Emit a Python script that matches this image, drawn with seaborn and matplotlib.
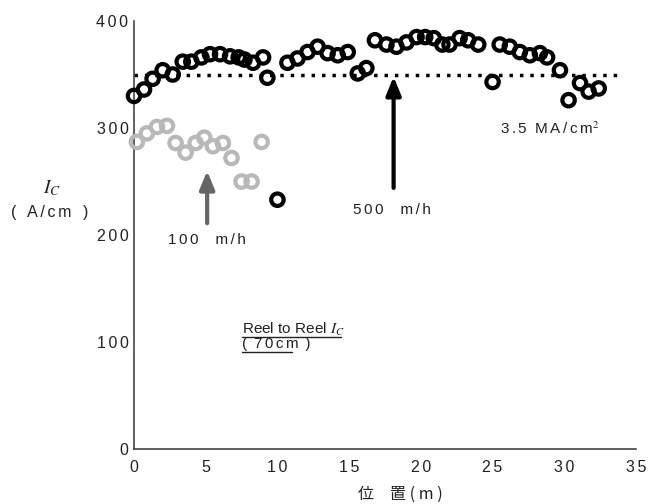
import matplotlib
matplotlib.use("Agg")
import matplotlib.pyplot as plt
import seaborn as sns
import pandas as pd

# ---- data ----
pos_500 = [0.0, 0.7, 1.3, 2.0, 2.7, 3.4, 4.0, 4.7, 5.3, 6.0, 6.7, 7.3, 7.7, 8.3,
           9.0, 9.3, 10.0, 10.7, 11.4, 12.1, 12.8, 13.5, 14.2, 14.9, 15.6, 16.2,
           16.8, 17.6, 18.3, 19.0, 19.7, 20.3, 20.9, 21.5, 22.0, 22.7, 23.3, 24.0,
           25.0, 25.5, 26.2, 26.9, 27.6, 28.3, 28.8, 29.7, 30.3, 31.1, 31.7, 32.4]
ic_500 = [330, 336, 346, 354, 350, 362, 362, 366, 369, 369, 367, 366, 364, 361,
          366, 347, 233, 361, 365, 371, 376, 370, 368, 371, 351, 356,
          382, 378, 376, 380, 385, 385, 384, 378, 378, 384, 382, 378,
          343, 378, 376, 371, 368, 370, 366, 354, 326, 342, 334, 337]

pos_100 = [0.2, 0.9, 1.6, 2.3, 2.9, 3.6, 4.3, 4.9, 5.5, 6.2, 6.8, 7.5, 8.2, 8.9]
ic_100 = [287, 295, 301, 302, 286, 277, 286, 291, 283, 286, 272, 250, 250, 287]

jc_line = 350          # 3.5 MA/cm2 level
jc_line_end = 33.8
x_ticks = [0, 5, 10, 15, 20, 25, 30, 35]
y_ticks = [0, 100, 200, 300, 400]

df500 = pd.DataFrame({"pos": pos_500, "ic": ic_500})
df100 = pd.DataFrame({"pos": pos_100, "ic": ic_100})

sns.set_style("white")
plt.rcParams["font.family"] = ["Liberation Sans", "Noto Sans CJK JP", "DejaVu Sans"]
plt.rcParams["mathtext.fontset"] = "stix"

fig = plt.figure(figsize=(6.62, 5.04), dpi=100)
ax = fig.add_axes([0.2024, 0.1091, 0.7583, 0.8492])

HS = "\u2006"


def sp(s, gap="  "):
    words = s.split(" ")
    return gap.join(HS.join(list(w)) for w in words)


ax.hlines(jc_line, 0, jc_line_end, colors="black", linewidth=2.5,
          linestyles=(0, (1, 2.0)), zorder=1)

sns.scatterplot(data=df100, x="pos", y="ic", ax=ax, marker="o", s=80,
                facecolor="none", edgecolor="#b8b8b8", linewidth=3.0, zorder=3,
                clip_on=False)
sns.scatterplot(data=df500, x="pos", y="ic", ax=ax, marker="o", s=80,
                facecolor="none", edgecolor="black", linewidth=3.0, zorder=4,
                clip_on=False)

# arrows
ax.annotate("", xy=(5.1, 260), xytext=(5.1, 211),
            arrowprops=dict(arrowstyle="-|>,head_width=0.45,head_length=1.1",
                            color="#666666", lw=3, shrinkA=0, shrinkB=0))
ax.annotate("", xy=(18.1, 348), xytext=(18.1, 244),
            arrowprops=dict(arrowstyle="-|>,head_width=0.45,head_length=1.1",
                            color="black", lw=3, shrinkA=0, shrinkB=0))

ax.text(5.1, 195, sp("100 m/h", "    "), ha="center", va="center",
        fontsize=11, color="#222222")
ax.text(18.0, 223, sp("500 m/h", "    "), ha="center", va="center",
        fontsize=11, color="#222222")
ax.text(29.0, 299, sp("3.5 MA/cm") + r"$^{\mathrm{2}}$", ha="center",
        va="center", fontsize=11, color="#222222")

ax.text(7.5, 112, "Reel to Reel " + r"$\mathit{I}_{\mathit{C}}$",
        ha="left", va="center", fontsize=11, color="#222222")
ax.text(7.5, 98, "(" + HS + " " + sp("70cm") + HS + " )", ha="left", va="center",
        fontsize=11, color="#222222")
ax.plot([7.5, 14.4], [104.5, 104.5], color="#222222", lw=1.0)
ax.plot([7.5, 11.0], [90.5, 90.5], color="#222222", lw=1.0)

ax.set_xlim(0, 35)
ax.set_ylim(0, 400)
ax.set_xticks(x_ticks)
ax.set_xticklabels([sp(str(t)) for t in x_ticks])
ax.set_yticks(y_ticks)
ax.set_yticklabels([sp(str(t)) for t in y_ticks])
ax.set_yticks([50, 150, 250, 350], minor=True)
ax.tick_params(axis="both", which="both", direction="in", length=8, width=1,
               color="#333333", labelsize=11.5, labelcolor="#222222")
ax.tick_params(axis="x", pad=8)
ax.tick_params(axis="y", pad=4)

sns.despine(ax=ax)
for s in ["left", "bottom"]:
    ax.spines[s].set_color("#444444")
    ax.spines[s].set_linewidth(1.2)

ax.set_xlabel("位\u3000置 ( m )", fontsize=11.5,
              color="#222222", family=["Noto Sans CJK JP", "DejaVu Sans"],
              labelpad=8)
ax.xaxis.label.set_x(0.53)
ax.set_ylabel("")
fig.text(52 / 662, 1 - 188 / 504, r"$\mathit{I}_{\mathit{C}}$", ha="center",
         va="center", fontsize=14, color="#222222")
fig.text(50 / 662, 1 - 212 / 504, "(" + HS + "  " + sp("A/cm") + "  " + HS + ")",
         ha="center", va="center", fontsize=11.5, color="#222222")

fig.savefig("out.png", dpi=100)
